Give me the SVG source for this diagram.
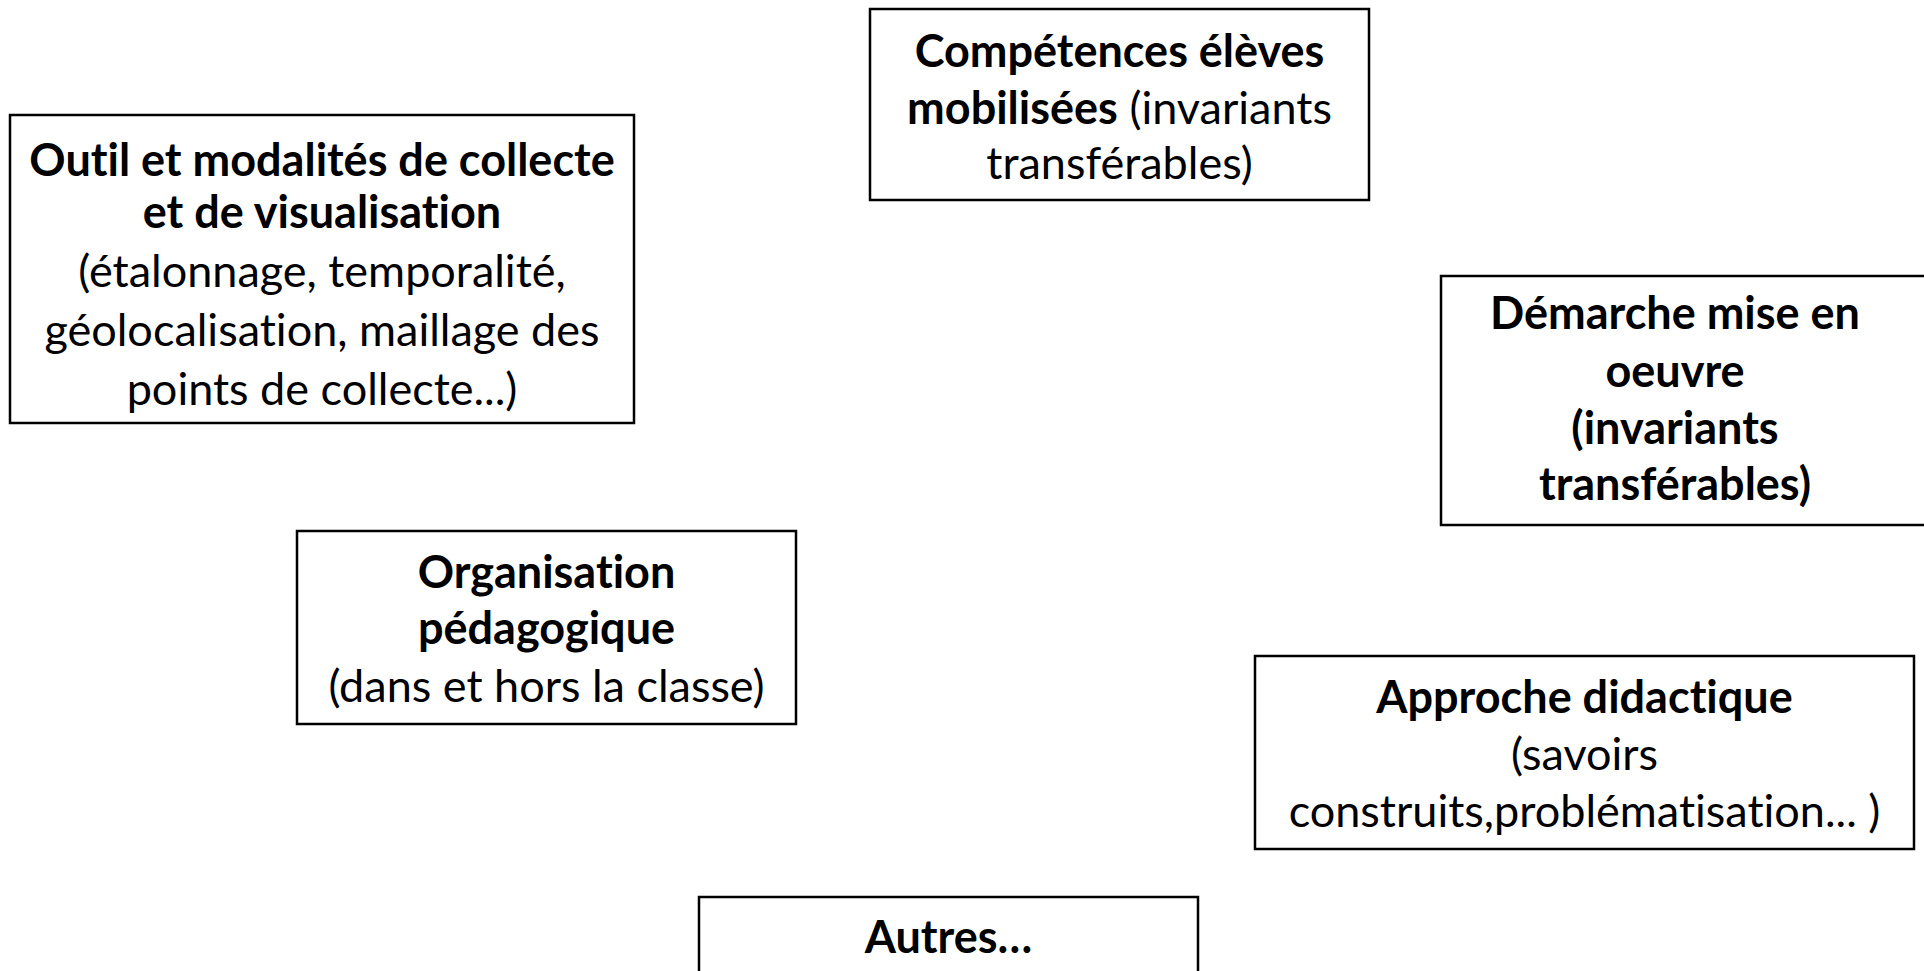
<svg xmlns="http://www.w3.org/2000/svg" width="1924" height="971" viewBox="0 0 1924 971">
<style>
.box{fill:#fff;stroke:#000;stroke-width:2.5}
text{font-family:Lato,"Liberation Sans",sans-serif;font-size:45px;fill:#000;text-anchor:middle;font-variant-ligatures:none}
.b{font-weight:bold}
</style>
<rect width="1924" height="971" fill="#fff"/>
<g id="connectors"/>
<g id="outil">
<rect class="box" x="10" y="115" width="624" height="308"/>
<text class="b" x="322" y="176">Outil et modalités de collecte</text>
<text class="b" x="322" y="228">et de visualisation</text>
<text x="322" y="287">(étalonnage, temporalité,</text>
<text x="322" y="346">géolocalisation, maillage des</text>
<text x="322" y="405">points de collecte...)</text>
</g>
<g id="competences">
<rect class="box" x="870" y="9" width="499" height="191"/>
<text class="b" x="1119.5" y="67">Compétences élèves</text>
<text x="1119.5" y="124"><tspan class="b">mobilisées</tspan> (invariants</text>
<text x="1119.5" y="179">transférables)</text>
</g>
<g id="demarche">
<rect class="box" x="1441" y="276" width="500" height="249"/>
<text class="b" x="1675" y="329">Démarche mise en</text>
<text class="b" x="1675" y="387">oeuvre</text>
<text class="b" x="1675" y="444">(invariants</text>
<text class="b" x="1675" y="500">transférables)</text>
</g>
<g id="organisation">
<rect class="box" x="297" y="531" width="499" height="193"/>
<text class="b" x="546.5" y="588">Organisation</text>
<text class="b" x="546.5" y="644">pédagogique</text>
<text x="546.5" y="702">(dans et hors la classe)</text>
</g>
<g id="approche">
<rect class="box" x="1255" y="656" width="659" height="193"/>
<text class="b" x="1584.5" y="713">Approche didactique</text>
<text x="1584.5" y="770">(savoirs</text>
<text x="1584.5" y="827">construits,problématisation... )</text>
</g>
<g id="autres">
<rect class="box" x="699" y="897" width="499" height="120"/>
<text class="b" x="948.5" y="953">Autres…</text>
</g>
</svg>
